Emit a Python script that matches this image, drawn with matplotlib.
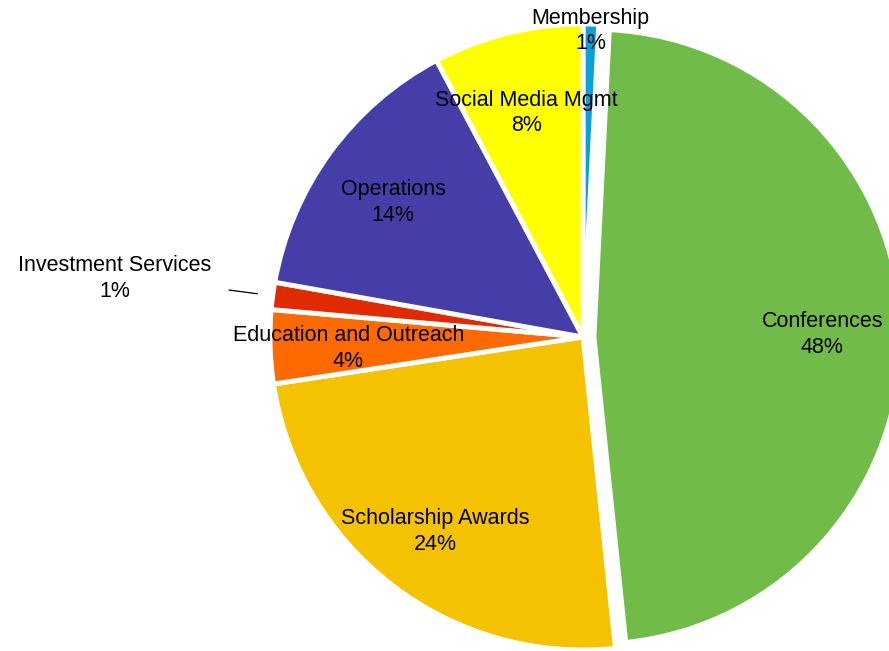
import numpy as np
import matplotlib
matplotlib.use("Agg")
import matplotlib.pyplot as plt

categories = ["Membership", "Conferences", "Scholarship Awards", "Education and Outreach",
              "Investment Services", "Operations", "Social Media Mgmt"]
shares = [0.8, 47.55, 24.25, 3.8, 1.4, 14.45, 7.75]
colors = ["#0CA0DA", "#71BC48", "#F5C200", "#FF6A00", "#E02A00", "#453DA8", "#FFFF00"]
explode = [0.0, 0.035, 0.0, 0.0, 0.0, 0.0, 0.0]

plt.rcParams['font.family'] = ['Liberation Sans', 'DejaVu Sans']

fig = plt.figure(figsize=(8.89, 6.51), dpi=100)
ax = fig.add_axes([0, 0, 1, 1])
# pie radius is 313 px, centre at pixel (583, 337)
R = 313.0

wedges, _ = ax.pie(shares, colors=colors, explode=explode, startangle=90, counterclock=False,
                   radius=1.0, center=(0, 0), frame=True,
                   wedgeprops=dict(edgecolor='white', linewidth=3.5))
# the pulled-out slice is drawn a little smaller
wedges[1].set_radius(0.982)

ax.set_xlim(-583 / R, (889 - 583) / R)
ax.set_ylim(-(651 - 337) / R, 337 / R)
ax.set_aspect('equal')
ax.axis('off')

total = sum(shares)
for w, name, v in zip(wedges, categories, shares):
    mid = np.deg2rad((w.theta1 + w.theta2) / 2)
    cx, cy = w.center
    txt = f"{name}\n{v / total * 100:.0f}%"
    if name == "Membership":
        r = 0.99
    elif name == "Investment Services":
        r = 1.51
        ax.plot([cx + 1.05 * np.cos(mid), cx + 1.14 * np.cos(mid)],
                [cy + 1.05 * np.sin(mid), cy + 1.14 * np.sin(mid)],
                color='black', lw=0.9)
    elif name == "Conferences":
        r = 0.73
    elif name == "Scholarship Awards":
        r = 0.77
    else:
        r = 0.75
    ax.text(cx + r * np.cos(mid), cy + r * np.sin(mid) - 0.012, txt, ha='center', va='center',
            fontsize=15.5, color='black', linespacing=1.3)

fig.savefig("out.png", dpi=100)
